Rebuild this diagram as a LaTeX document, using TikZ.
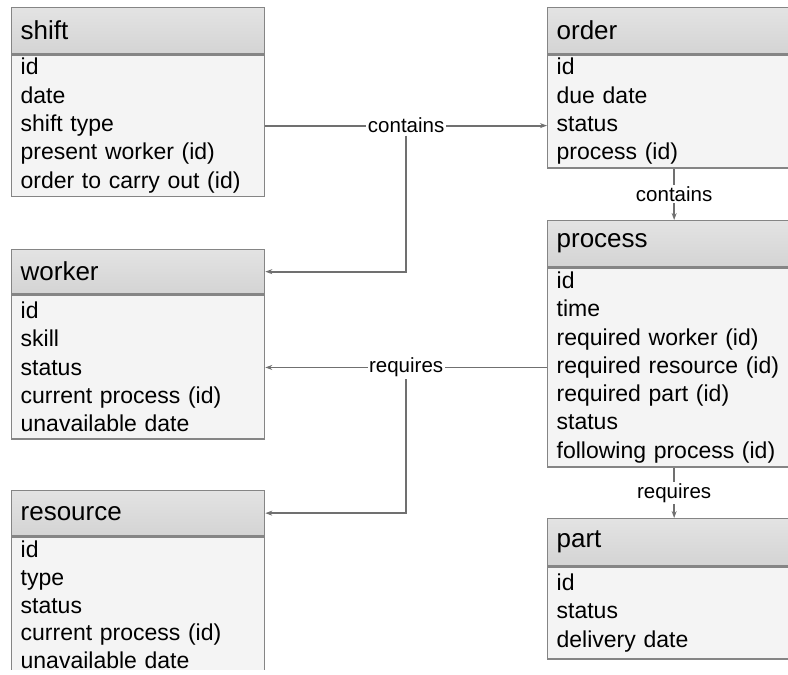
\documentclass[tikz,border=0pt]{standalone}
\usepackage{fontspec}
\setmainfont{Liberation Sans}
\usetikzlibrary{arrows.meta}
\definecolor{bodycol}{HTML}{F4F4F4}
\definecolor{edgecol}{HTML}{858585}
\definecolor{linecol}{HTML}{707070}
\tikzset{
 hdr/.style={draw=edgecol, line width=1.3pt, top color=black!11, bottom color=black!17, anchor=north west,
   minimum width=253pt, minimum height=46pt, text width=235pt, inner xsep=9pt, align=left,
   font=\fontsize{26}{30}\selectfont},
 bodybox/.style={draw=edgecol, line width=1.3pt, fill=bodycol, anchor=north west,
   minimum width=253pt, text width=235pt, inner xsep=9pt, align=left,
   font=\fontsize{23}{28.3}\selectfont},
 conn/.style={draw=linecol, line width=1.8pt, -{Stealth[length=7pt,width=5pt]}},
 lbl/.style={fill=white, inner sep=1.5pt, font=\fontsize{20.5}{24}\selectfont}
}
\begin{document}
\begin{tikzpicture}[x=1pt,y=-1pt]
\useasboundingbox (0,0) rectangle (788,675);
\fill[white] (0,0) rectangle (788,675);
\clip (0,0) rectangle (788,669.5);
% shift
\node[hdr] (shiftH) at (11,7) {shift};
\node[bodybox, minimum height=140pt] (shiftB) at (shiftH.south west)
  {id\\date\\shift type\\present worker (id)\\order to carry out (id)};
% worker
\node[hdr, minimum height=44pt] (workerH) at (11,249) {worker};
\node[bodybox, minimum height=144pt] (workerB) at (workerH.south west)
  {id\\skill\\status\\current process (id)\\unavailable date};
% resource
\node[hdr, minimum height=45pt] (resH) at (11,490) {resource};
\node[bodybox, minimum height=136pt, font=\fontsize{23}{27.6}\selectfont] (resB) at (resH.south west)
  {id\\type\\status\\current process (id)\\unavailable date};
% order
\node[hdr] (orderH) at (547,7) {order};
\node[bodybox, minimum height=113pt] (orderB) at (orderH.south west)
  {id\\due date\\status\\process (id)};
% process
\node[hdr] (procH) at (547,220) {process};
\node[bodybox, minimum height=199pt] (procB) at (procH.south west)
  {id\\time\\required worker (id)\\required resource (id)\\required part (id)\\status\\following process (id)};
% part
\node[hdr, minimum height=47pt] (partH) at (547,518) {part};
\node[bodybox, minimum height=92pt] (partB) at (partH.south west)
  {id\\status\\delivery date};
% connectors
\draw[conn] (shiftB.east) -- node[lbl] (c1) {contains} (shiftB.east -| orderB.west);
\draw[conn] (c1.south) |- (workerH.east);
\draw[conn] (orderB.south) -- node[lbl] (c2) {contains} (procH.north);
\draw[conn] (procB.west) -- node[lbl] (r1) {requires} (procB.west -| workerB.east);
\draw[conn] (r1.south) |- (resH.east);
\draw[conn] (procB.south) -- node[lbl] (r2) {requires} (partH.north);
\end{tikzpicture}
\end{document}
